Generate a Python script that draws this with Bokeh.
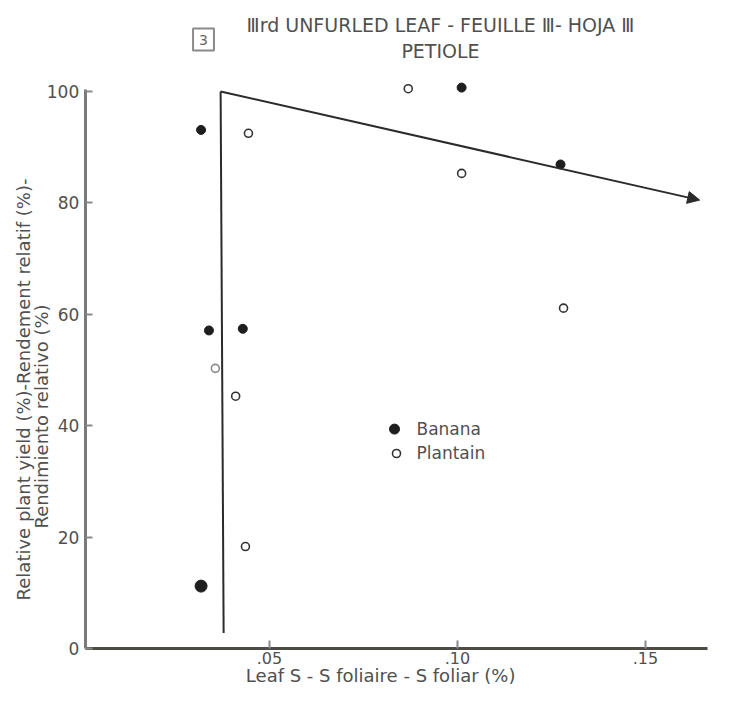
import math
from bokeh.plotting import figure
from bokeh.models import Label, Arrow, NormalHead, FixedTicker, Range1d
from bokeh.embed import file_html
from bokeh.resources import INLINE

# ---- data ----
banana_s = [0.0318, 0.0339, 0.0429, 0.0318, 0.1011, 0.1274]
banana_yield = [93.1, 57.1, 57.4, 11.2, 100.7, 86.9]
plantain_s = [0.0444, 0.0869, 0.1011, 0.1282, 0.0356, 0.0410, 0.0436]
plantain_yield = [92.5, 100.5, 85.3, 61.1, 50.3, 45.3, 18.3]

# critical-level boundary line (vertical part then sloped arrow)
boundary_s = [0.0378, 0.0370, 0.1644]
boundary_yield = [2.8, 100.0, 80.5]

x_tick_vals = [0.05, 0.10, 0.15]
x_tick_labels = [".05", ".10", ".15"]
y_tick_vals = [0, 20, 40, 60, 80, 100]

title_line1 = "\u2162rd UNFURLED LEAF - FEUILLE \u2162- HOJA \u2162"
title_line2 = "PETIOLE"
panel_number = "3"
x_label = "Leaf  S - S foliaire - S foliar (%)"
y_label1 = "Relative plant yield (%)-Rendement relatif (%)-"
y_label2 = "Rendimiento relativo (%)"
legend_names = ["Banana", "Plantain"]

# ---- layout helpers: canvas pixel -> data position (for text placement only) ----
PX_PER_X = 3760.0
X0_PX = 81.0
PX_PER_Y = 5.57
Y0_PX = 648.0
W, H = 722, 688


def X(px):
    return (px - X0_PX) / PX_PER_X


def Y(py):
    return (Y0_PX - py) / PX_PER_Y


# styles
banana_sizes = [9, 9, 9, 12, 9, 9]
plantain_line_colors = ["#333333", "#333333", "#333333", "#333333", "#8c8c8c", "#333333", "#333333"]
FONT = "DejaVu Sans"
TXT = "#505050"
DARK = "#2b2b2b"

# frame covers the whole canvas; axes are pinned at x=0.001 and y=0
p = figure(width=W, height=H,
           x_range=Range1d(X(0), X(W)), y_range=Range1d(Y(H), Y(0)),
           output_backend="svg", toolbar_location=None,
           min_border_left=0, min_border_right=0, min_border_top=0, min_border_bottom=0)
p.outline_line_color = None
p.grid.visible = False
p.background_fill_color = "white"

# x axis
xa = p.xaxis[0]
xa.fixed_location = 0
xa.bounds = (0.001, 0.1665)
xa.ticker = FixedTicker(ticks=x_tick_vals)
xa.major_label_overrides = {v: l for v, l in zip(x_tick_vals, x_tick_labels)}
xa.axis_line_color = "#4c4c44"
xa.axis_line_width = 3
xa.major_tick_in = 8
xa.major_tick_out = 0
xa.major_tick_line_color = "#8a8a8a"
xa.major_tick_line_width = 2
xa.minor_tick_line_color = None
xa.major_label_text_font = FONT
xa.major_label_text_font_size = "16px"
xa.major_label_text_color = TXT
xa.major_label_standoff = 3

# y axis
ya = p.yaxis[0]
ya.fixed_location = 0.001
ya.bounds = (0, 100.3)
ya.ticker = FixedTicker(ticks=y_tick_vals)
ya.axis_line_color = "#7a7a7a"
ya.axis_line_width = 3
ya.major_tick_in = 7
ya.major_tick_out = 0
ya.major_tick_line_color = "#8a8a8a"
ya.major_tick_line_width = 2
ya.minor_tick_line_color = None
ya.major_label_text_font = FONT
ya.major_label_text_font_size = "17px"
ya.major_label_text_color = TXT
ya.major_label_standoff = 6

# boundary lines
p.line(boundary_s[:2], boundary_yield[:2], line_color=DARK, line_width=2)
p.add_layout(Arrow(end=NormalHead(size=12, fill_color=DARK, line_color=DARK),
                   x_start=boundary_s[1], y_start=boundary_yield[1],
                   x_end=boundary_s[2], y_end=boundary_yield[2],
                   line_color=DARK, line_width=2))

# points
p.scatter(banana_s, banana_yield, size=banana_sizes, marker="circle",
          fill_color="#1e1e1e", line_color="#1e1e1e")
p.scatter(plantain_s, plantain_yield, size=8, marker="circle",
          fill_color="white", line_color=plantain_line_colors, line_width=1.6)

# legend (custom placement)
p.scatter([X(394)], [Y(428.6)], size=10, marker="circle", fill_color="#1e1e1e", line_color="#1e1e1e")
p.scatter([X(396)], [Y(453)], size=8, marker="circle", fill_color="white", line_color="#333333",
          line_width=1.6)
p.add_layout(Label(x=X(416), y=Y(428), text=legend_names[0], text_font=FONT, text_font_size="17px",
                   text_color=TXT, text_baseline="middle"))
p.add_layout(Label(x=X(416), y=Y(452.5), text=legend_names[1], text_font=FONT, text_font_size="17px",
                   text_color=TXT, text_baseline="middle"))

# titles
p.add_layout(Label(x=X(440), y=Y(24), text=title_line1, text_font=FONT, text_font_size="19px",
                   text_color=TXT, text_align="center", text_baseline="middle"))
p.add_layout(Label(x=X(440), y=Y(50), text=title_line2, text_font=FONT, text_font_size="19px",
                   text_color=TXT, text_align="center", text_baseline="middle"))
p.add_layout(Label(x=X(203), y=Y(39), text=panel_number, text_font=FONT, text_font_size="14px",
                   text_color="#666666", text_align="center", text_baseline="middle",
                   border_line_color="#8a8a8a", border_line_width=2, padding=6,
                   background_fill_color="white"))

# axis labels
p.add_layout(Label(x=X(383), y=Y(675), text=x_label, text_font=FONT, text_font_size="18px",
                   text_color=TXT, text_align="center", text_baseline="middle"))
p.add_layout(Label(x=X(22.5), y=Y(389), text=y_label1, text_font=FONT, text_font_size="18px",
                   text_color=TXT, text_align="center", text_baseline="middle", angle=math.pi / 2))
p.add_layout(Label(x=X(40.5), y=Y(416), text=y_label2, text_font=FONT, text_font_size="18px",
                   text_color=TXT, text_align="center", text_baseline="middle", angle=math.pi / 2))

open("out.html", "w").write(file_html(p, INLINE))
